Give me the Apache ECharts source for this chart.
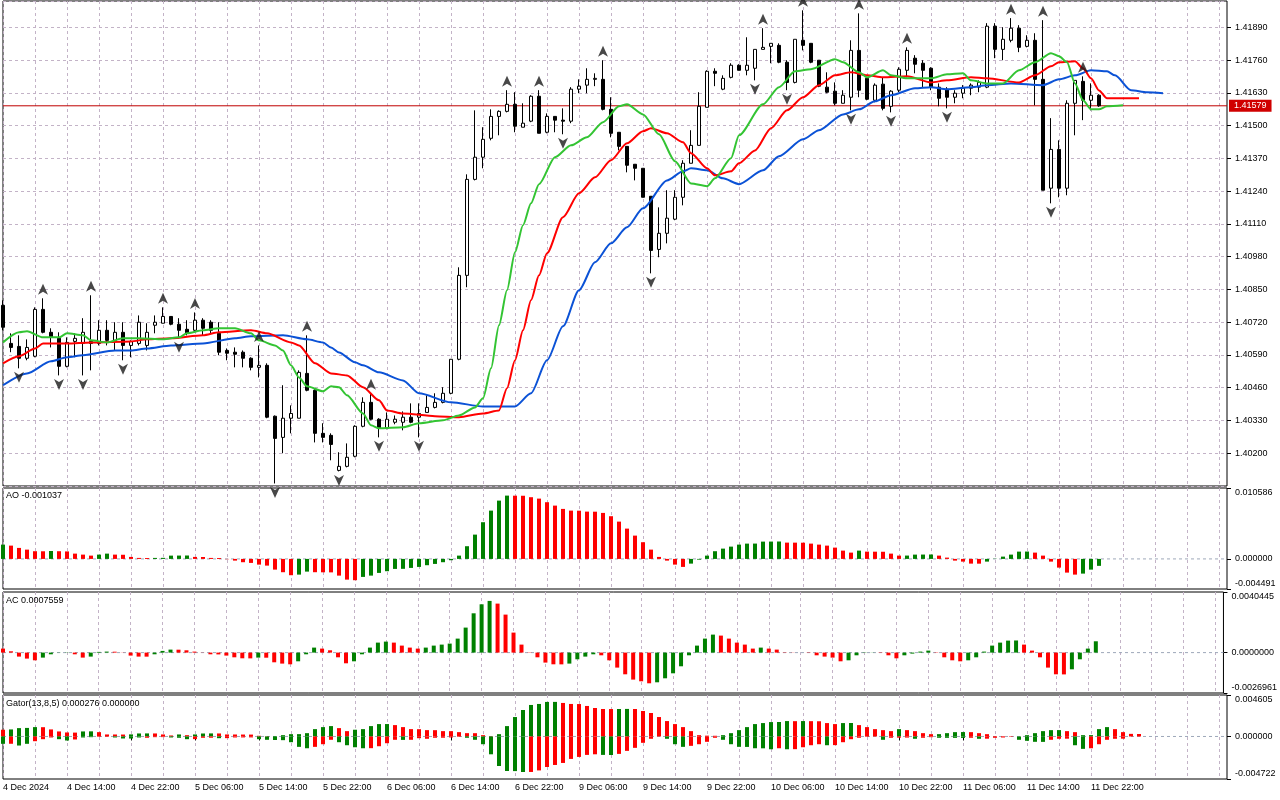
<!DOCTYPE html>
<html>
<head>
<meta charset="utf-8">
<title>EURUSD H1 - Alligator, AO, AC, Gator</title>
<script src="https://cdn.jsdelivr.net/npm/echarts@6.0.0/dist/echarts.min.js"></script>
<style>
  html, body { margin: 0; padding: 0; background: #fff; }
  #chart { width: 1280px; height: 800px; }
</style>
</head>
<body>
<div id="chart"></div>
<script>
// bottom axis labels, one every 8 hourly bars
var timeLabels = ['4 Dec 2024', '4 Dec 14:00', '4 Dec 22:00', '5 Dec 06:00', '5 Dec 14:00', '5 Dec 22:00',
  '6 Dec 06:00', '6 Dec 14:00', '6 Dec 22:00', '9 Dec 06:00', '9 Dec 14:00', '9 Dec 22:00',
  '10 Dec 06:00', '10 Dec 14:00', '10 Dec 22:00', '11 Dec 06:00', '11 Dec 14:00', '11 Dec 22:00'];

// open, close, low, high
var candles = [
  [1.40787,1.40700,1.40688,1.40807],[1.40636,1.40620,1.40601,1.40676],[1.40624,1.40577,1.40537,1.40668],[1.40577,1.40620,1.40569,1.40652],[1.40585,1.40771,1.40581,1.40779],
  [1.40771,1.40680,1.40676,1.40815],[1.40680,1.40660,1.40620,1.40696],[1.40656,1.40545,1.40509,1.40680],[1.40545,1.40640,1.40541,1.40660],[1.40644,1.40656,1.40581,1.40676],
  [1.40636,1.40680,1.40509,1.40736],[1.40644,1.40636,1.40529,1.40827],[1.40636,1.40688,1.40628,1.40728],[1.40688,1.40648,1.40628,1.40728],[1.40648,1.40680,1.40608,1.40720],
  [1.40680,1.40628,1.40569,1.40720],[1.40628,1.40644,1.40581,1.40648],[1.40636,1.40720,1.40628,1.40747],[1.40628,1.40680,1.40608,1.40716],[1.40708,1.40720,1.40676,1.40747],
  [1.40716,1.40743,1.40716,1.40779],[1.40743,1.40712,1.40708,1.40743],[1.40712,1.40688,1.40656,1.40736],[1.40692,1.40676,1.40668,1.40728],[1.40688,1.40728,1.40680,1.40759],
  [1.40728,1.40696,1.40668,1.40736],[1.40720,1.40688,1.40676,1.40728],[1.40676,1.40601,1.40589,1.40720],[1.40608,1.40597,1.40569,1.40616],[1.40601,1.40593,1.40541,1.40620],
  [1.40601,1.40577,1.40541,1.40608],[1.40577,1.40541,1.40529,1.40581],[1.40541,1.40549,1.40501,1.40628],[1.40549,1.40343,1.40339,1.40557],[1.40347,1.40259,1.40080,1.40350],
  [1.40263,1.40339,1.40200,1.40470],[1.40339,1.40358,1.40279,1.40390],[1.40339,1.40521,1.40339,1.40529],[1.40517,1.40450,1.40446,1.40668],[1.40450,1.40279,1.40243,1.40454],
  [1.40279,1.40263,1.40243,1.40319],[1.40271,1.40235,1.40172,1.40279],[1.40132,1.40148,1.40128,1.40204],[1.40148,1.40184,1.40144,1.40239],[1.40188,1.40307,1.40184,1.40311],
  [1.40307,1.40402,1.40303,1.40422],[1.40402,1.40335,1.40331,1.40438],[1.40335,1.40299,1.40263,1.40339],[1.40299,1.40335,1.40295,1.40362],[1.40323,1.40335,1.40315,1.40350],
  [1.40323,1.40343,1.40291,1.40366],[1.40343,1.40323,1.40319,1.40398],[1.40343,1.40358,1.40263,1.40398],[1.40362,1.40382,1.40362,1.40430],[1.40382,1.40402,1.40378,1.40438],
  [1.40402,1.40438,1.40398,1.40462],[1.40438,1.40573,1.40434,1.40573],[1.40573,1.40906,1.40569,1.40938],[1.40906,1.41287,1.40859,1.41307],[1.41287,1.41375,1.41283,1.41561],
  [1.41375,1.41446,1.41331,1.41494],[1.41450,1.41537,1.41442,1.41565],[1.41537,1.41557,1.41462,1.41561],[1.41557,1.41585,1.41553,1.41641],[1.41585,1.41498,1.41474,1.41633],
  [1.41494,1.41510,1.41494,1.41589],[1.41518,1.41617,1.41514,1.41621],[1.41617,1.41470,1.41470,1.41641],[1.41474,1.41537,1.41470,1.41549],[1.41537,1.41522,1.41474,1.41537],
  [1.41522,1.41518,1.41466,1.41569],[1.41518,1.41645,1.41510,1.41653],[1.41645,1.41657,1.41629,1.41684],[1.41661,1.41684,1.41629,1.41728],[1.41684,1.41688,1.41657,1.41708],
  [1.41684,1.41565,1.41561,1.41760],[1.41565,1.41470,1.41454,1.41613],[1.41474,1.41418,1.41402,1.41474],[1.41418,1.41343,1.41315,1.41418],[1.41347,1.41331,1.41283,1.41347],
  [1.41331,1.41216,1.41216,1.41331],[1.41220,1.41005,1.40914,1.41220],[1.41009,1.41073,1.40978,1.41176],[1.41073,1.41133,1.41033,1.41244],[1.41129,1.41216,1.41125,1.41244],
  [1.41216,1.41351,1.41184,1.41363],[1.41351,1.41422,1.41351,1.41482],[1.41422,1.41577,1.41422,1.41633],[1.41573,1.41716,1.41573,1.41720],[1.41716,1.41708,1.41657,1.41728],
  [1.41645,1.41688,1.41641,1.41700],[1.41692,1.41740,1.41688,1.41748],[1.41740,1.41720,1.41720,1.41744],[1.41720,1.41740,1.41700,1.41851],[1.41728,1.41803,1.41680,1.41803],
  [1.41803,1.41811,1.41803,1.41887],[1.41815,1.41827,1.41748,1.41827],[1.41819,1.41752,1.41748,1.41827],[1.41752,1.41672,1.41641,1.41760],[1.41672,1.41843,1.41668,1.41843],
  [1.41839,1.41819,1.41799,1.41958],[1.41827,1.41752,1.41748,1.41827],[1.41760,1.41657,1.41653,1.41760],[1.41653,1.41633,1.41629,1.41712],[1.41637,1.41589,1.41581,1.41672],
  [1.41589,1.41621,1.41589,1.41641],[1.41613,1.41799,1.41561,1.41839],[1.41799,1.41641,1.41613,1.41946],[1.41688,1.41605,1.41601,1.41688],[1.41601,1.41661,1.41593,1.41668],
  [1.41665,1.41569,1.41561,1.41692],[1.41577,1.41637,1.41553,1.41641],[1.41641,1.41724,1.41633,1.41732],[1.41720,1.41799,1.41692,1.41811],[1.41768,1.41744,1.41708,1.41780],
  [1.41748,1.41720,1.41653,1.41760],[1.41728,1.41653,1.41641,1.41732],[1.41653,1.41609,1.41577,1.41668],[1.41645,1.41613,1.41569,1.41653],[1.41613,1.41629,1.41589,1.41641],
  [1.41629,1.41649,1.41609,1.41661],[1.41649,1.41661,1.41621,1.41668],[1.41653,1.41672,1.41633,1.41680],[1.41653,1.41895,1.41649,1.41907],[1.41895,1.41803,1.41768,1.41907],
  [1.41803,1.41843,1.41760,1.41891],[1.41839,1.41887,1.41831,1.41927],[1.41887,1.41811,1.41792,1.41899],[1.41815,1.41839,1.41811,1.41859],[1.41839,1.41684,1.41581,1.41867],
  [1.41684,1.41244,1.41244,1.41919],[1.41252,1.41406,1.41192,1.41530],[1.41406,1.41252,1.41216,1.41442],[1.41252,1.41589,1.41224,1.41601],[1.41589,1.41680,1.41462,1.41680],
  [1.41676,1.41601,1.41522,1.41696],[1.41601,1.41621,1.41561,1.41668],[1.41621,1.41579,1.41575,1.41625]
];

// Alligator lines as [bar, price] (already shifted forward)
var jaw = [[0,1.40470],[3,1.40517],[6,1.40565],[8,1.40581],[10,1.40589],[14,1.40608],[16,1.40608],[18,1.40616],[21,1.40628],[25,1.40636],
  [29,1.40656],[31,1.40664],[35,1.40668],[38,1.40652],[40,1.40640],[41,1.40620],[42,1.40600],[44,1.40561],[45,1.40549],[47,1.40521],
  [50,1.40489],[52,1.40438],[56,1.40402],[60,1.40386],[64,1.40386],[66,1.40438],[68,1.40569],[70,1.40704],[72,1.40847],[74,1.40958],
  [76,1.41033],[78,1.41097],[80,1.41172],[83,1.41283],[85,1.41319],[86,1.41331],[88,1.41323],[90,1.41291],[92,1.41268],[95,1.41323],
  [97,1.41379],[100,1.41446],[102,1.41482],[105,1.41545],[107,1.41565],[109,1.41597],[111,1.41621],[114,1.41649],[116,1.41653],[118,1.41645],
  [121,1.41653],[123,1.41661],[126,1.41668],[130,1.41661],[132,1.41684],[134,1.41700],[136,1.41720],[138,1.41716],[139,1.41700],[141,1.41641],
  [143,1.41633],[145,1.41629]];
var teeth = [[0,1.40557],[2,1.40585],[4,1.40616],[5,1.40636],[8,1.40636],[11,1.40640],[16,1.40644],[18,1.40652],[21,1.40656],[25,1.40668],
  [27,1.40680],[31,1.40688],[33,1.40676],[36,1.40640],[37,1.40628],[39,1.40557],[41,1.40517],[43,1.40509],[45,1.40462],[47,1.40410],
  [48,1.40370],[50,1.40358],[54,1.40347],[57,1.40343],[60,1.40358],[62,1.40370],[63,1.40458],[64,1.40569],[65,1.40688],[66,1.40807],
  [67,1.40906],[68,1.40994],[70,1.41137],[72,1.41232],[74,1.41295],[76,1.41363],[78,1.41430],[80,1.41478],[81,1.41490],[83,1.41470],
  [85,1.41434],[86,1.41391],[88,1.41331],[89,1.41303],[91,1.41319],[92,1.41351],[94,1.41402],[96,1.41490],[98,1.41561],[100,1.41613],
  [102,1.41661],[104,1.41700],[106,1.41712],[108,1.41700],[110,1.41692],[113,1.41696],[116,1.41672],[118,1.41680],[121,1.41692],[123,1.41688],
  [127,1.41672],[129,1.41700],[131,1.41736],[132,1.41752],[134,1.41756],[135,1.41728],[136,1.41688],[137,1.41640],[138,1.41609],[142,1.41609]];
var lips = [[0,1.40640],[2,1.40680],[3,1.40684],[5,1.40660],[7,1.40660],[8,1.40676],[10,1.40668],[11,1.40648],[13,1.40640],[15,1.40656],
  [17,1.40656],[20,1.40652],[22,1.40660],[23,1.40676],[25,1.40688],[27,1.40696],[29,1.40696],[31,1.40676],[32,1.40648],[34,1.40628],
  [35,1.40608],[36,1.40549],[37,1.40501],[38,1.40466],[40,1.40446],[41,1.40466],[42,1.40462],[43,1.40430],[45,1.40358],[46,1.40311],
  [47,1.40299],[50,1.40303],[52,1.40319],[55,1.40331],[57,1.40350],[59,1.40382],[60,1.40418],[61,1.40537],[62,1.40708],[63,1.40847],
  [64,1.40998],[65,1.41105],[66,1.41192],[67,1.41268],[69,1.41375],[71,1.41422],[73,1.41454],[75,1.41514],[77,1.41577],[78,1.41585],
  [80,1.41545],[82,1.41466],[84,1.41359],[86,1.41271],[88,1.41260],[89,1.41291],[91,1.41371],[92,1.41462],[95,1.41585],[97,1.41653],
  [99,1.41716],[101,1.41724],[104,1.41764],[105,1.41752],[107,1.41712],[108,1.41692],[110,1.41720],[111,1.41700],[113,1.41688],[116,1.41688],
  [118,1.41704],[120,1.41708],[121,1.41680],[123,1.41668],[125,1.41668],[127,1.41720],[129,1.41752],[131,1.41788],[132,1.41776],[133,1.41752],
  [134,1.41668],[135,1.41601],[136,1.41565],[137,1.41565],[138,1.41577],[140,1.41581]];

// bars that carry a fractal arrow
var upFractals = [5, 11, 20, 24, 32, 38, 46, 63, 67, 75, 95, 100, 107, 113, 126, 130, 135];
var downFractals = [2, 7, 10, 15, 22, 34, 42, 47, 52, 70, 81, 94, 98, 106, 111, 118, 131];

// Awesome Oscillator, g = rising bar, r = falling bar
var ao = [
  0.002135, 0.001986, 0.001642, 0.001388, 0.001150, 0.001140, 0.001180, 0.001150, 0.001120, 0.000791,
  0.000642, 0.000493, 0.000642, 0.000791, 0.000642, 0.000620, 0.000299, 0.000149, 0.000140, 0.000150,
  0.000160, 0.000493, 0.000500, 0.000510, 0.000299, 0.000290, 0.000149, 0.000140, -0.000045, -0.000254,
  -0.000493, -0.000597, -0.000851, -0.001000, -0.001598, -0.001986, -0.002434, -0.002344, -0.001896, -0.001986,
  -0.002000, -0.002010, -0.002493, -0.003091, -0.003180, -0.002687, -0.002493, -0.002090, -0.001836, -0.001493,
  -0.001480, -0.001344, -0.001194, -0.000941, -0.000747, -0.000493, -0.000194, 0.000493, 0.001896, 0.003628,
  0.005479, 0.007211, 0.008704, 0.009451, 0.009440, 0.009430, 0.009212, 0.009003, 0.008465, 0.007958,
  0.007465, 0.007211, 0.007200, 0.007062, 0.007050, 0.006868, 0.006375, 0.005569, 0.004524, 0.003479,
  0.002493, 0.001388, 0.000299, -0.000254, -0.000851, -0.001194, -0.000702, -0.000105, 0.000493, 0.001150,
  0.001538, 0.001836, 0.002135, 0.002284, 0.002290, 0.002583, 0.002590, 0.002600, 0.002434, 0.002430,
  0.002420, 0.002284, 0.002135, 0.001986, 0.001687, 0.001239, 0.000941, 0.001239, 0.001090, 0.001080,
  0.001070, 0.000791, 0.000493, 0.000500, 0.000642, 0.000650, 0.000660, 0.000493, 0.000194, -0.000254,
  -0.000403, -0.000702, -0.000710, -0.000403, 0.000030, 0.000343, 0.000642, 0.001090, 0.001100, 0.000941,
  0.000493, -0.000403, -0.001299, -0.002045, -0.002344, -0.002194, -0.001598, -0.001037
];
var aoColors = 'grrrrrgrrr' + 'rrggrrrrrg' + 'ggggrrrrrr' + 'rrrrrrrggr' + 'rrrrrggggg' + 'gggggggggg' + 'ggggrrrrrr' +
  'rrrrrrrrrr' + 'rrrrrrgggg' + 'ggggggggrr' + 'rrrrrrrgrr' + 'rrrggggrrr' + 'rrrggggggr' + 'rrrrrggg';

// Accelerator Oscillator
var ac = [
  0.000267, 0.000087, -0.000267, -0.000400, -0.000514, -0.000334, -0.000113, 0.000010, 0.000015, -0.000113,
  -0.000334, -0.000267, 0.000047, 0.000067, 0.000060, 0.000010, -0.000200, -0.000267, -0.000270, -0.000113,
  0.000113, 0.000200, 0.000195, 0.000154, 0.000067, 0.000010, -0.000113, -0.000120, -0.000200, -0.000314,
  -0.000380, -0.000385, -0.000334, -0.000340, -0.000647, -0.000734, -0.000781, -0.000581, -0.000113, 0.000334,
  0.000267, 0.000154, -0.000314, -0.000714, -0.000581, -0.000113, 0.000334, 0.000667, 0.000734, 0.000667,
  0.000467, 0.000334, 0.000267, 0.000334, 0.000467, 0.000534, 0.000601, 0.000934, 0.001669, 0.002623,
  0.003224, 0.003450, 0.003270, 0.002536, 0.001335, 0.000534, -0.000020, -0.000314, -0.000667, -0.000781,
  -0.000785, -0.000734, -0.000447, -0.000267, -0.000113, -0.000180, -0.000514, -0.001001, -0.001448, -0.001802,
  -0.001915, -0.002049, -0.001982, -0.001715, -0.001382, -0.000914, -0.000180, 0.000467, 0.000934, 0.001201,
  0.001135, 0.000934, 0.000667, 0.000534, 0.000267, 0.000334, 0.000267, 0.000200, 0.000020, 0.000010,
  0.000000, -0.000020, -0.000180, -0.000267, -0.000334, -0.000581, -0.000514, -0.000180, -0.000020, 0.000010,
  -0.000020, -0.000180, -0.000380, -0.000180, -0.000067, 0.000067, 0.000133, -0.000020, -0.000314, -0.000514,
  -0.000581, -0.000514, -0.000314, 0.000067, 0.000467, 0.000667, 0.000801, 0.000810, 0.000534, 0.000133,
  -0.000314, -0.001001, -0.001448, -0.001455, -0.001115, -0.000447, 0.000267, 0.0007559
];
var acColors = 'rrrrrggggr' + 'rgggrrrrrg' + 'ggrrrrrrrr' + 'rrgrrrrggg' + 'rrrrgggggr' + 'rrrggggggg' + 'ggrrrrrrrr' +
  'rggggrrrrr' + 'rrgggggggg' + 'rrrrrgrrrr' + 'grrrrrgggg' + 'rrrggggrrr' + 'rgggggggrr' + 'rrrrgggg';

// Gator Oscillator, upper bars and lower bars (lower drawn below zero)
var gatorUp = [
  0.000749, 0.000783, 0.000928, 0.000950, 0.001040, 0.001030, 0.000783, 0.000559, 0.000447, 0.000430,
  0.000559, 0.000570, 0.000481, 0.000224, 0.000220, 0.000215, 0.000230, 0.000335, 0.000340, 0.000335,
  0.000224, 0.000112, 0.000224, 0.000145, 0.000224, 0.000330, 0.000340, 0.000335, 0.000224, 0.000220,
  0.000215, 0.000210, 0.000078, 0.000034, 0.000040, 0.000145, 0.000257, 0.000260, 0.000369, 0.000816,
  0.001040, 0.001152, 0.000928, 0.000593, 0.000749, 0.000816, 0.001152, 0.001375, 0.001380, 0.001263,
  0.001040, 0.000816, 0.000810, 0.000704, 0.000700, 0.000593, 0.000590, 0.000481, 0.000369, 0.000365,
  0.000145, 0.000034, 0.000257, 0.001152, 0.002158, 0.002940, 0.003499, 0.003611, 0.003835, 0.003840,
  0.003723, 0.003611, 0.003600, 0.003388, 0.003164, 0.003052, 0.003045, 0.003052, 0.003060, 0.003050,
  0.002829, 0.002605, 0.002158, 0.001711, 0.001375, 0.001040, 0.000593, 0.000145, 0.000090, 0.000078,
  0.000145, 0.000369, 0.000704, 0.001040, 0.001375, 0.001487, 0.001599, 0.001610, 0.001711, 0.001700,
  0.001711, 0.001700, 0.001690, 0.001487, 0.001375, 0.001487, 0.001495, 0.001263, 0.001040, 0.000816,
  0.000704, 0.000593, 0.000816, 0.000704, 0.000593, 0.000369, 0.000257, 0.000260, 0.000369, 0.000481,
  0.000490, 0.000481, 0.000369, 0.000257, 0.000034, 0.000030, 0.000025, 0.000000, 0.000145, 0.000369,
  0.000593, 0.000704, 0.000710, 0.000593, 0.000481, 0.000145, 0.000150, 0.000816, 0.001040, 0.000816,
  0.000481, 0.000290, 0.000276
];
var gatorUpColors = 'rggggrrrrr' + 'ggrrrrgggr' + 'rrgrgggrrr' + 'rrrrgggggg' + 'ggrrgggggr' + 'rrrrrrrrrr' + 'rrgggggggg' +
  'rrrrrrrggr' + 'rrrrrrrrrr' + 'gggggggggr' + 'grrrrggrrr' + 'rrgrrrrggg' + 'grrrrrrggg' + 'gggrrggggr' + 'rrr';
var gatorDown = [
  0.000816, 0.000810, 0.001006, 0.000816, 0.000525, 0.000302, 0.000112, 0.000302, 0.000447, 0.000335,
  0.000112, 0.000078, 0.000034, 0.000030, 0.000112, 0.000224, 0.000230, 0.000112, 0.000145, 0.000078,
  0.000070, 0.000112, 0.000145, 0.000302, 0.000295, 0.000145, 0.000140, 0.000190, 0.000185, 0.000112,
  0.000108, 0.000104, 0.000302, 0.000369, 0.000391, 0.000410, 0.000637, 0.001152, 0.001308, 0.001152,
  0.000861, 0.000369, 0.000637, 0.000973, 0.001196, 0.001308, 0.001300, 0.001084, 0.000749, 0.000369,
  0.000380, 0.000369, 0.000190, 0.000257, 0.000145, 0.000140, 0.000112, 0.000034, 0.000145, 0.000369,
  0.000861, 0.001979, 0.003276, 0.003835, 0.003845, 0.003947, 0.003940, 0.003768, 0.003388, 0.003164,
  0.002940, 0.002493, 0.002270, 0.002046, 0.001979, 0.002046, 0.002057, 0.001934, 0.001599, 0.001263,
  0.000704, 0.000257, 0.000000, 0.000257, 0.000861, 0.001152, 0.001040, 0.000861, 0.000593, 0.000145,
  0.000369, 0.000861, 0.001152, 0.001160, 0.001308, 0.001315, 0.001420, 0.001308, 0.001420, 0.001410,
  0.001196, 0.000973, 0.000861, 0.000973, 0.000960, 0.000637, 0.000302, 0.000145, 0.000034, 0.000000,
  0.000369, 0.000145, 0.000134, 0.000123, 0.000257, 0.000145, 0.000078, 0.000145, 0.000150, 0.000156,
  0.000160, 0.000145, 0.000257, 0.000246, 0.000145, 0.000112, 0.000034, 0.000369, 0.000481, 0.000593,
  0.000600, 0.000369, 0.000257, 0.000246, 0.000973, 0.001375, 0.001308, 0.000861, 0.000369, 0.000257,
  0.000246, 0.000000, 0.000000
];
var gatorDownColors = 'grggrrrggr' + 'ggrrggggrr' + 'rgggrrrgrr' + 'rrgggggggr' + 'rrggggrrrr' + 'grrrrrrrgg' + 'ggggggrrrr' +
  'rrrrrggrrr' + 'rrrgggrrrr' + 'gggggggrgr' + 'rrrgrrrrrr' + 'grrrgrrggg' + 'grgrrrrggg' + 'grrrggrrrr' + 'rrr';

// pane ranges as printed on the right scale
var aoRange = [-0.004491, 0.010586];
var acRange = [-0.0026961, 0.0040445];
var gatorRange = [-0.004722, 0.004605];

var FONT = 'Liberation Sans';
var GRID_LINE = '#c3b3c7';
var UP = '#008000';
var DOWN = '#ff0000';
var N_SLOTS = 154;       // bars visible across the chart width, incl. empty space on the right

var slots = [];
for (var i = 0; i < N_SLOTS; i++) slots.push(i);

function colored(values, codes, sign) {
  return values.map(function (v, i) {
    return { value: sign * v, itemStyle: { color: codes.charAt(i) === 'g' ? UP : DOWN } };
  });
}

function isLabelSlot(i) {
  return i % 8 === 0 && i / 8 < timeLabels.length;
}

function xAxisFor(gridIndex, withLabels) {
  return {
    type: 'category',
    gridIndex: gridIndex,
    data: slots,
    boundaryGap: false,
    axisLine: { show: false },
    axisTick: withLabels ? { show: true, length: 4, interval: isLabelSlot, lineStyle: { color: '#000' } } : { show: false },
    axisLabel: withLabels ? {
      show: true, interval: isLabelSlot, align: 'left', margin: 4,
      color: '#000', fontFamily: FONT, fontSize: 9,
      formatter: function (v, idx) { return timeLabels[idx / 8]; }
    } : { show: false },
    splitLine: { show: true, interval: function (i) { return i % 4 === 0; }, lineStyle: { color: GRID_LINE, type: [3, 3] } }
  };
}

function paneAxis(gridIndex, range, digits) {
  var ticks = [range[0], 0, range[1]];
  return {
    type: 'value',
    gridIndex: gridIndex,
    position: 'right',
    min: range[0],
    max: range[1],
    axisLine: { show: false },
    axisTick: { show: true, length: 4, customValues: ticks, lineStyle: { color: '#000' } },
    axisLabel: {
      customValues: ticks, showMinLabel: true, showMaxLabel: true,
      margin: 8, color: '#000', fontFamily: FONT, fontSize: 9, lineHeight: 10,
      formatter: function (v) {
        var s = v.toFixed(digits);
        // MT keeps the top and bottom labels inside the pane
        if (Math.abs(v - range[1]) < 1e-12) return '\n' + s;
        if (Math.abs(v - range[0]) < 1e-12) return s + '\n';
        return s;
      }
    },
    splitLine: { show: false }
  };
}

// a level drawn across the whole pane width (zero lines, bid line)
function levelLine(axisIndex, value, lineStyle, endLabel) {
  return {
    type: 'line', xAxisIndex: axisIndex, yAxisIndex: axisIndex,
    data: [[0, value], [N_SLOTS - 1, value]],
    symbol: 'none', silent: true, z: 1,
    lineStyle: lineStyle,
    endLabel: endLabel || { show: false }
  };
}

var lastPrice = candles[candles.length - 1][1];

function alligatorLine(data, color) {
  return {
    type: 'line', xAxisIndex: 0, yAxisIndex: 0, data: data,
    symbol: 'none', smooth: 0.25, smoothMonotone: 'x', z: 3,
    lineStyle: { color: color, width: 2 }
  };
}

var zeroStyle = { color: '#9ea8ba', type: [3, 3], width: 1 };

var chart = echarts.init(document.getElementById('chart'));
chart.setOption({
  animation: false,
  backgroundColor: '#fff',
  textStyle: { fontFamily: FONT },
  grid: [
    { left: 3, width: 1224, top: 1, height: 485 },
    { left: 3, width: 1224, top: 488, height: 101 },
    { left: 3, width: 1224, top: 592, height: 101 },
    { left: 3, width: 1224, top: 695, height: 84 }
  ].map(function (g) {
    return Object.assign({ show: true, borderColor: '#000', borderWidth: 1, backgroundColor: 'transparent' }, g);
  }),
  xAxis: [xAxisFor(0, false), xAxisFor(1, false), xAxisFor(2, false), xAxisFor(3, true)],
  yAxis: [
    {
      type: 'value', gridIndex: 0, position: 'right',
      min: 1.40070, max: 1.41995, interval: 0.0013,
      axisLine: { show: false },
      axisTick: { show: true, length: 4, lineStyle: { color: '#000' } },
      axisLabel: {
        showMinLabel: false, showMaxLabel: false, margin: 8,
        color: '#000', fontFamily: FONT, fontSize: 9,
        formatter: function (v) { return v.toFixed(5); }
      },
      splitLine: { show: true, lineStyle: { color: GRID_LINE, type: [3, 3] } }
    },
    paneAxis(1, aoRange, 6),
    paneAxis(2, acRange, 7),
    paneAxis(3, gatorRange, 6)
  ],
  graphic: [
    { type: 'text', left: 6, top: 491, style: { text: 'AO ' + ao[ao.length - 1].toFixed(6), fontFamily: FONT, fontSize: 9, fill: '#000' } },
    { type: 'text', left: 6, top: 596, style: { text: 'AC ' + ac[ac.length - 1].toFixed(7), fontFamily: FONT, fontSize: 9, fill: '#000' } },
    { type: 'text', left: 6, top: 699, style: {
      text: 'Gator(13,8,5) ' + gatorUp[gatorUp.length - 1].toFixed(6) + ' ' + gatorDown[gatorDown.length - 1].toFixed(6),
      fontFamily: FONT, fontSize: 9, fill: '#000' } }
  ],
  series: [
    levelLine(0, lastPrice, { color: '#c00000', width: 1 }, {
      show: true, distance: 2,
      color: '#fff', backgroundColor: '#d00000', padding: [2, 5, 1, 5],
      fontFamily: FONT, fontSize: 9,
      formatter: function () { return lastPrice.toFixed(5); }
    }),
    {
      type: 'candlestick', xAxisIndex: 0, yAxisIndex: 0, data: candles,
      barWidth: 4, clip: false, z: 2,
      itemStyle: { color: '#fff', color0: '#000', borderColor: '#000', borderColor0: '#000', borderWidth: 1 }
    },
    alligatorLine(jaw, '#0b52d6'),
    alligatorLine(teeth, '#ff0000'),
    alligatorLine(lips, '#33c433'),
    {
      type: 'scatter', xAxisIndex: 0, yAxisIndex: 0, z: 4,
      data: upFractals.map(function (i) { return [i, candles[i][3]]; }),
      symbol: 'path://M5,0 L10,11 L5,8 L0,11 Z', symbolSize: [10, 11], symbolOffset: [0, -9],
      itemStyle: { color: '#1a1a1a' }
    },
    {
      type: 'scatter', xAxisIndex: 0, yAxisIndex: 0, z: 4,
      data: downFractals.map(function (i) { return [i, candles[i][2]]; }),
      symbol: 'path://M0,0 L5,3 L10,0 L5,11 Z', symbolSize: [10, 11], symbolOffset: [0, 9],
      itemStyle: { color: '#1a1a1a' }
    },
    levelLine(1, 0, zeroStyle),
    levelLine(2, 0, zeroStyle),
    levelLine(3, 0, zeroStyle),
    {
      type: 'bar', xAxisIndex: 1, yAxisIndex: 1, barWidth: 4, z: 2,
      data: colored(ao, aoColors, 1)
    },
    {
      type: 'bar', xAxisIndex: 2, yAxisIndex: 2, barWidth: 4, z: 2,
      data: colored(ac, acColors, 1)
    },
    {
      type: 'bar', xAxisIndex: 3, yAxisIndex: 3, barWidth: 4, barGap: '-100%', z: 2,
      data: colored(gatorUp, gatorUpColors, 1)
    },
    {
      type: 'bar', xAxisIndex: 3, yAxisIndex: 3, barWidth: 4, barGap: '-100%', z: 2,
      data: colored(gatorDown, gatorDownColors, -1)
    }
  ]
});
</script>
</body>
</html>
